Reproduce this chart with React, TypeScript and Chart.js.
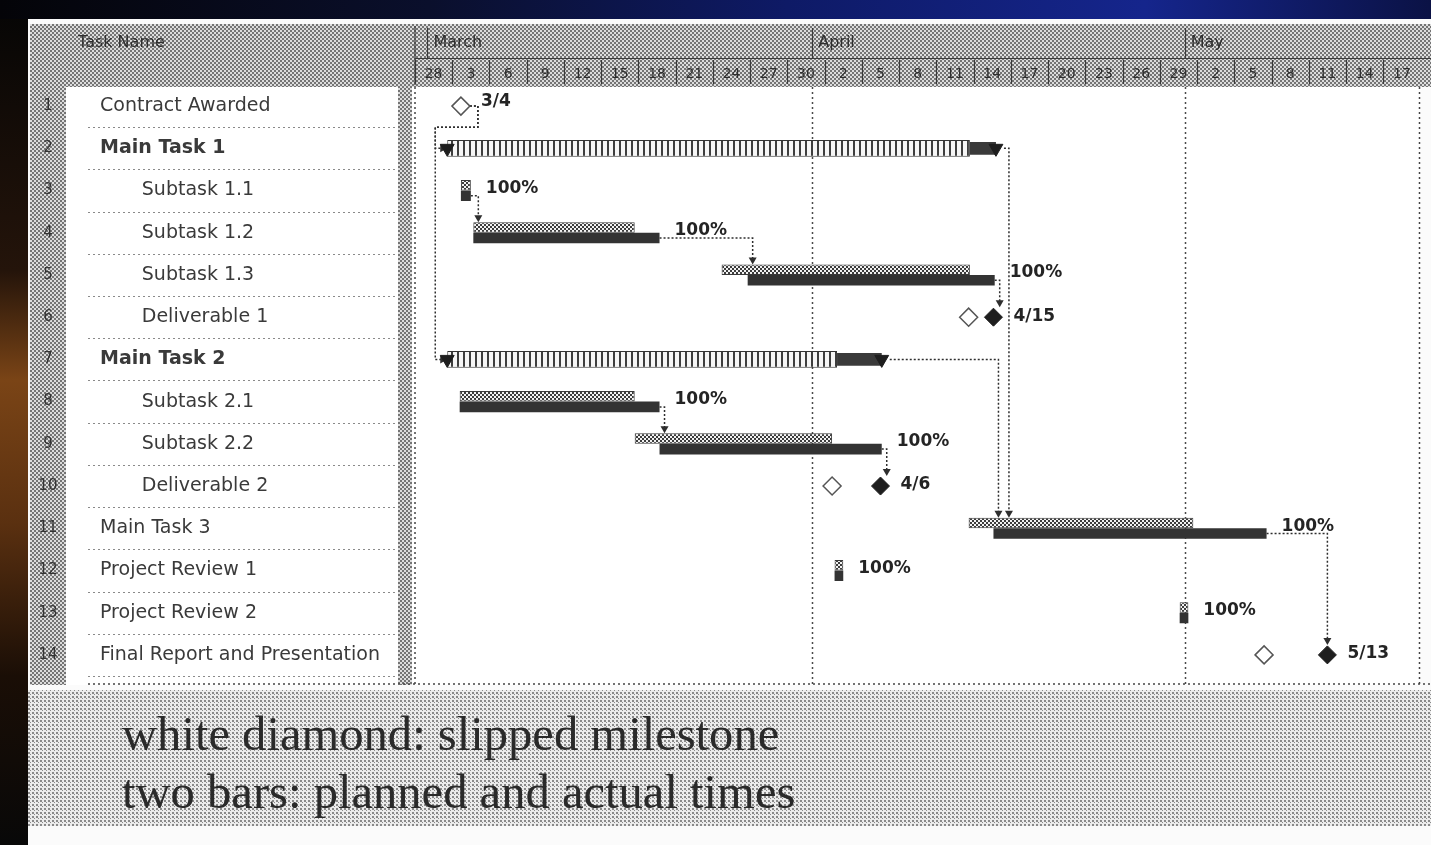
import React, { useEffect, useRef } from 'react';
import { Chart, registerables } from 'chart.js';

Chart.register(...registerables);

const W = 1431;
const H = 845;

const taskIds = ['1', '2', '3', '4', '5', '6', '7', '8', '9', '10', '11', '12', '13', '14'];
const taskNames = [
  'Contract Awarded', 'Main Task 1', 'Subtask 1.1', 'Subtask 1.2', 'Subtask 1.3', 'Deliverable 1',
  'Main Task 2', 'Subtask 2.1', 'Subtask 2.2', 'Deliverable 2', 'Main Task 3', 'Project Review 1',
  'Project Review 2', 'Final Report and Presentation',
];
const taskLevels = [0, 0, 1, 1, 1, 1, 0, 1, 1, 1, 0, 0, 0, 0];
const summaryRows = [false, true, false, false, false, false, true, false, false, false, false, false, false, false];

// day numbers counted from 28 February
const dayTickStarts = [0, 3, 6, 9, 12, 15, 18, 21, 24, 27, 30, 33, 36, 39, 42, 45, 48, 51, 54, 57, 60, 63, 66, 69, 72, 75, 78];
const dayTickLabels = ['28', '3', '6', '9', '12', '15', '18', '21', '24', '27', '30', '2', '5', '8', '11', '14', '17', '20', '23', '26', '29', '2', '5', '8', '11', '14', '17'];
const monthNames = ['March', 'April', 'May'];
const monthStartDays = [1, 32, 62];
const dividerDays = [32, 62];

const plannedStart = [null, null, 3.7, 4.7, 24.7, null, null, 3.6, 17.7, null, 44.6, 33.8, 61.6, null];
const plannedEnd = [null, null, 4.5, 17.7, 44.7, null, null, 17.7, 33.6, null, 62.7, 34.5, 62.3, null];
const actualStart = [null, null, 3.7, 4.7, 26.8, null, null, 3.6, 19.7, null, 46.6, 33.8, 61.6, null];
const actualEnd = [null, null, 4.5, 19.7, 46.7, null, null, 19.7, 37.6, null, 68.6, 34.5, 62.3, null];
const summaryStart = [null, 2.6, null, null, null, null, 2.6, null, null, null, null, null, null, null];
const summaryPlannedEnd = [null, 44.7, null, null, null, null, 34.0, null, null, null, null, null, null, null];
const summaryActualEnd = [null, 46.8, null, null, null, null, 37.6, null, null, null, null, null, null, null];
const milestonePlanned = [3.7, null, null, null, null, 44.6, null, null, null, 33.6, null, null, null, 68.4];
const milestoneActual = [null, null, null, null, null, 46.6, null, null, null, 37.5, null, null, null, 73.5];
const percentLabels = [null, null, '100%', '100%', '100%', null, null, '100%', '100%', null, '100%', '100%', '100%', null];
const dateLabels = ['3/4', null, null, null, null, '4/15', null, null, null, '4/6', null, null, null, '5/13'];
const links = [[0, 1], [0, 6], [2, 3], [3, 4], [4, 5], [7, 8], [8, 9], [1, 10], [6, 10], [10, 13]];
const captionLines = ['white diamond: slipped milestone', 'two bars: planned and actual times'];

export default function App() {
  const ref = useRef<HTMLCanvasElement>(null);

  useEffect(() => {
    const canvas = ref.current as HTMLCanvasElement;
    const ctx = canvas.getContext('2d') as CanvasRenderingContext2D;

    const pat = (w: number, h: number, bg: string, fg: string, rects: number[][]) => {
      const c = document.createElement('canvas');
      c.width = w;
      c.height = h;
      const g = c.getContext('2d') as CanvasRenderingContext2D;
      g.fillStyle = bg;
      g.fillRect(0, 0, w, h);
      g.fillStyle = fg;
      rects.forEach((r) => g.fillRect(r[0], r[1], r[2], r[3]));
      return ctx.createPattern(c, 'repeat') as CanvasPattern;
    };
    const headerPat = pat(4, 4, '#dcdcdc', '#747474', [[0, 0, 2, 2], [2, 2, 2, 2]]);
    const captionPat = pat(4, 4, '#ececec', '#8a8a8a', [[0, 0, 2, 2], [2, 2, 1, 1]]);
    const plannedPat = pat(4, 4, '#f2f2f2', '#3c3c3c', [[0, 0, 2, 2], [2, 2, 2, 2]]);
    const summaryPat = pat(6, 4, '#f6f6f6', '#3e3e3e', [[1, 0, 2, 4]]);

    const font = (size: number, weight = 'normal') => `${weight} ${size}px "DejaVu Sans"`;

    const framePlugin = {
      id: 'frame',
      beforeDraw(chart: any) {
        const g = chart.ctx;
        const area = chart.chartArea;
        const xs = chart.scales.x;
        const ys = chart.scales.y;
        g.save();
        g.fillStyle = '#07070b';
        g.fillRect(0, 0, W, H);
        const tg = g.createLinearGradient(0, 0, W, 0);
        tg.addColorStop(0, '#040408');
        tg.addColorStop(0.3, '#0a0f2c');
        tg.addColorStop(0.55, '#0e1a66');
        tg.addColorStop(0.8, '#15258c');
        tg.addColorStop(1, '#0b1245');
        g.fillStyle = tg;
        g.fillRect(0, 0, W, 19);
        const lg = g.createLinearGradient(0, 0, 0, H);
        lg.addColorStop(0, '#050505');
        lg.addColorStop(0.32, '#24140a');
        lg.addColorStop(0.45, '#7a4416');
        lg.addColorStop(0.62, '#5a3010');
        lg.addColorStop(0.8, '#1a0e06');
        lg.addColorStop(1, '#080808');
        g.fillStyle = lg;
        g.fillRect(0, 19, 28, H - 19);
        // page
        g.fillStyle = '#fbfbfb';
        g.fillRect(28, 19, W - 28, H - 19);
        // header, id column, separator band
        g.fillStyle = headerPat;
        g.fillRect(30, 24, W - 30, area.top + 2 - 24);
        g.fillRect(30, area.top, 36, area.bottom + 9 - area.top);
        g.fillRect(398, area.top, area.left - 398, area.bottom + 9 - area.top);
        // name column and chart body
        g.fillStyle = '#ffffff';
        g.fillRect(66, area.top + 2, 332, area.bottom + 7 - area.top);
        g.fillRect(area.left, area.top + 2, area.right - area.left, area.bottom + 7 - area.top);
        // caption backdrop
        g.fillStyle = captionPat;
        g.fillRect(28, area.bottom + 14, W - 28, 136);
        // header lines
        g.strokeStyle = '#3a3a3a';
        g.lineWidth = 1.2;
        g.beginPath();
        g.moveTo(area.left + 3, 58.5);
        g.lineTo(W, 58.5);
        g.moveTo(area.left + 3, 26);
        g.lineTo(area.left + 3, area.top);
        dayTickStarts.forEach((d) => {
          const x = Math.round(xs.getPixelForValue(d)) + 0.5;
          g.moveTo(x, 60);
          g.lineTo(x, area.top - 1);
        });
        monthStartDays.forEach((d) => {
          const x = Math.round(xs.getPixelForValue(d)) + 0.5;
          g.moveTo(x, 28);
          g.lineTo(x, 58);
        });
        g.stroke();
        // header texts
        g.fillStyle = '#2e2e2e';
        g.font = font(16);
        g.textBaseline = 'middle';
        g.textAlign = 'left';
        g.fillText('Task Name', 78, 43);
        g.font = font(16);
        monthNames.forEach((m, i) => {
          g.fillText(m, xs.getPixelForValue(monthStartDays[i]) + 6, 43);
        });
        // id numbers
        g.font = font(15);
        g.textAlign = 'center';
        g.fillStyle = '#333333';
        taskIds.forEach((id, i) => g.fillText(id, 48, ys.getPixelForValue(i)));
        // row separators in name column
        const rowH = ys.getPixelForValue(1) - ys.getPixelForValue(0);
        g.setLineDash([2, 3]);
        g.strokeStyle = '#8a8a8a';
        g.lineWidth = 1;
        g.beginPath();
        for (let k = 1; k <= taskNames.length; k++) {
          const y = Math.round(area.top + k * rowH) + 0.5;
          g.moveTo(88, y);
          g.lineTo(396, y);
        }
        g.stroke();
        // chart frame dotted lines
        g.strokeStyle = '#444444';
        g.lineWidth = 1.5;
        g.setLineDash([2, 3]);
        g.beginPath();
        g.moveTo(88, area.bottom + 8);
        g.lineTo(W, area.bottom + 8);
        g.moveTo(area.right - 1, area.top + 2);
        g.lineTo(area.right - 1, area.bottom + 8);
        g.moveTo(area.left + 3, area.top + 2);
        g.lineTo(area.left + 3, area.bottom + 8);
        g.stroke();
        g.restore();
      },
      beforeDatasetsDraw(chart: any) {
        const g = chart.ctx;
        const area = chart.chartArea;
        const xs = chart.scales.x;
        const ys = chart.scales.y;
        const X = (v: number) => xs.getPixelForValue(v);
        const rowY = (i: number) => ys.getPixelForValue(i);
        const rowH = rowY(1) - rowY(0);
        g.save();
        // month divider lines
        g.strokeStyle = '#4a4a4a';
        g.lineWidth = 1.5;
        g.setLineDash([2, 3]);
        g.beginPath();
        dividerDays.forEach((d) => {
          const x = Math.round(X(d)) + 0.5;
          g.moveTo(x, area.top + 2);
          g.lineTo(x, area.bottom + 8);
        });
        g.stroke();
        // dependency links
        const plannedMeta = chart.getDatasetMeta(0);
        const actualMeta = chart.getDatasetMeta(1);
        const src = (i: number) => {
          if (actualEnd[i] != null) {
            const el = actualMeta.data[i];
            return { x: X(actualEnd[i] as number), y: el ? el.y : rowY(i) + 5 };
          }
          if (summaryActualEnd[i] != null) return { x: X(summaryActualEnd[i] as number) + 8, y: rowY(i) };
          const m = (milestoneActual[i] ?? milestonePlanned[i]) as number;
          return { x: X(m) + 9, y: rowY(i) };
        };
        const tgt = (j: number) => {
          if (actualStart[j] != null) {
            const el = plannedMeta.data[j];
            return { x: X(actualStart[j] as number), y: rowY(j), top: el ? el.y - el.height / 2 : rowY(j) - 10, ms: false };
          }
          if (summaryStart[j] != null) return { x: X(summaryStart[j] as number), y: rowY(j), top: rowY(j) - 8, ms: false };
          const m = (milestoneActual[j] ?? milestonePlanned[j]) as number;
          return { x: X(m), y: rowY(j), top: rowY(j) - 10, ms: true };
        };
        g.strokeStyle = '#2e2e2e';
        g.fillStyle = '#2e2e2e';
        g.lineWidth = 1.5;
        links.forEach(([a, b]) => {
          const s = src(a);
          const t = tgt(b);
          g.setLineDash([2, 2]);
          g.beginPath();
          if (t.x < s.x - 15) {
            const xr = s.x + 8;
            const yb = s.y + rowH / 2;
            const xl = t.x - 12;
            g.moveTo(s.x, s.y);
            g.lineTo(xr, s.y);
            g.lineTo(xr, yb);
            g.lineTo(xl, yb);
            g.lineTo(xl, t.y);
            g.lineTo(t.x - 5, t.y);
            g.stroke();
            g.setLineDash([]);
            g.beginPath();
            g.moveTo(t.x - 7, t.y - 4);
            g.lineTo(t.x, t.y);
            g.lineTo(t.x - 7, t.y + 4);
            g.closePath();
            g.fill();
          } else {
            const xv = t.ms ? Math.max(t.x, s.x + 5) : Math.max(t.x + 5, s.x + 5);
            g.moveTo(s.x, s.y);
            g.lineTo(xv, s.y);
            g.lineTo(xv, t.top - 5);
            g.stroke();
            g.setLineDash([]);
            g.beginPath();
            g.moveTo(xv - 4, t.top - 7);
            g.lineTo(xv, t.top);
            g.lineTo(xv + 4, t.top - 7);
            g.closePath();
            g.fill();
          }
        });
        g.restore();
      },
      afterDatasetsDraw(chart: any) {
        const g = chart.ctx;
        const xs = chart.scales.x;
        const ys = chart.scales.y;
        g.save();
        g.fillStyle = '#242424';
        g.font = font(17, 'bold');
        g.textAlign = 'left';
        g.textBaseline = 'middle';
        percentLabels.forEach((t, i) => {
          if (!t || actualEnd[i] == null) return;
          g.fillText(t, xs.getPixelForValue(actualEnd[i] as number) + 15, ys.getPixelForValue(i) - 2);
        });
        dateLabels.forEach((t, i) => {
          if (!t) return;
          const m = (milestoneActual[i] ?? milestonePlanned[i]) as number;
          const raise = milestoneActual[i] == null ? 5 : 1;
          g.fillText(t, xs.getPixelForValue(m) + 20, ys.getPixelForValue(i) - raise);
        });
        g.restore();
      },
      afterDraw(chart: any) {
        const g = chart.ctx;
        g.save();
        g.fillStyle = '#2a2a2a';
        g.textAlign = 'left';
        g.textBaseline = 'alphabetic';
        const targets = [658, 673];
        const baselines = [750, 808];
        captionLines.forEach((line, i) => {
          g.font = '48px "Liberation Serif"';
          const w = g.measureText(line).width;
          const size = (48 * targets[i]) / w;
          g.font = `${size.toFixed(1)}px "Liberation Serif"`;
          g.fillText(line, 122, baselines[i]);
        });
        g.restore();
      },
    };

    const rowData = (a: (number | null)[], b: (number | null)[]) =>
      taskNames.map((_, i) => (a[i] != null && b[i] != null ? [a[i], b[i]] : null));
    const points = (vals: (number | null)[]) =>
      vals.map((v, i) => (v != null ? { x: v, y: taskNames[i] } : null)).filter((p) => p !== null);

    const chart = new Chart(ctx, {
      type: 'bar',
      data: {
        labels: taskNames,
        datasets: [
          {
            type: 'bar',
            label: 'Planned',
            data: rowData(plannedStart, plannedEnd),
            backgroundColor: plannedPat,
            borderColor: '#3a3a3a',
            borderWidth: 1,
            borderSkipped: false,
            categoryPercentage: 0.5,
            barPercentage: 1,
            order: 4,
          },
          {
            type: 'bar',
            label: 'Actual',
            data: rowData(actualStart, actualEnd),
            backgroundColor: '#333333',
            borderWidth: 0,
            categoryPercentage: 0.5,
            barPercentage: 1,
            order: 5,
          },
          {
            type: 'bar',
            label: 'Summary',
            data: rowData(summaryStart, summaryPlannedEnd),
            grouped: false,
            backgroundColor: summaryPat,
            borderColor: '#333333',
            borderWidth: 1,
            borderSkipped: false,
            categoryPercentage: 0.4,
            barPercentage: 1,
            order: 3,
          },
          {
            type: 'bar',
            label: 'Summary slip',
            data: rowData(summaryPlannedEnd, summaryActualEnd),
            grouped: false,
            backgroundColor: '#3a3a3a',
            borderWidth: 0,
            categoryPercentage: 0.3,
            barPercentage: 1,
            order: 2,
          },
          {
            type: 'scatter',
            label: 'Planned milestone',
            data: points(milestonePlanned),
            pointStyle: 'rectRot',
            pointRadius: 9,
            backgroundColor: '#ffffff',
            borderColor: '#555555',
            borderWidth: 1.5,
            order: 1,
          },
          {
            type: 'scatter',
            label: 'Actual milestone',
            data: points(milestoneActual),
            pointStyle: 'rectRot',
            pointRadius: 9,
            backgroundColor: '#1e1e1e',
            borderColor: '#1e1e1e',
            borderWidth: 1,
            order: 0,
          },
          {
            type: 'scatter',
            label: 'Summary ends',
            data: [...points(summaryStart), ...points(summaryActualEnd)],
            pointStyle: 'triangle',
            rotation: 180,
            pointRadius: 8,
            backgroundColor: '#1e1e1e',
            borderColor: '#1e1e1e',
            borderWidth: 1,
            order: 0,
          },
        ] as any,
      },
      options: {
        indexAxis: 'y',
        responsive: false,
        maintainAspectRatio: false,
        animation: false,
        devicePixelRatio: 1,
        layout: { padding: { top: 55, left: 100, right: 1, bottom: 169 } },
        plugins: { legend: { display: false }, tooltip: { enabled: false } },
        scales: {
          x: {
            type: 'linear',
            position: 'top',
            min: -0.24,
            max: 81.0,
            grid: { display: false, drawTicks: false },
            border: { display: false },
            afterFit: (s: any) => {
              s.height = 30;
            },
            afterBuildTicks: (s: any) => {
              s.ticks = dayTickStarts.map((d) => ({ value: d + 1.5 }));
            },
            ticks: {
              autoSkip: false,
              maxRotation: 0,
              minRotation: 0,
              padding: 2,
              color: '#2e2e2e',
              font: { family: 'DejaVu Sans', size: 14 },
              callback: (_v: any, i: number) => dayTickLabels[i],
            },
          },
          y: {
            type: 'category',
            labels: taskNames,
            offset: true,
            grid: { display: false, drawTicks: false },
            border: { display: false },
            afterFit: (s: any) => {
              s.width = 312;
            },
            ticks: {
              autoSkip: false,
              crossAlign: 'far',
              padding: 0,
              color: '#3a3a3a',
              font: (c: any) => ({ family: 'DejaVu Sans', size: 19, weight: summaryRows[c.index] ? 'bold' : 'normal' }),
              callback: (_v: any, i: number) => (taskLevels[i] ? '\u2003\u2003\u2009' : '') + taskNames[i],
            },
          },
        },
      } as any,
      plugins: [framePlugin],
    });

    return () => chart.destroy();
  }, []);

  return (
    <div style={{ position: 'fixed', left: 0, top: 0, width: W, height: H, background: '#000' }}>
      <canvas ref={ref} width={W} height={H} style={{ display: 'block', width: W, height: H }} />
    </div>
  );
}
